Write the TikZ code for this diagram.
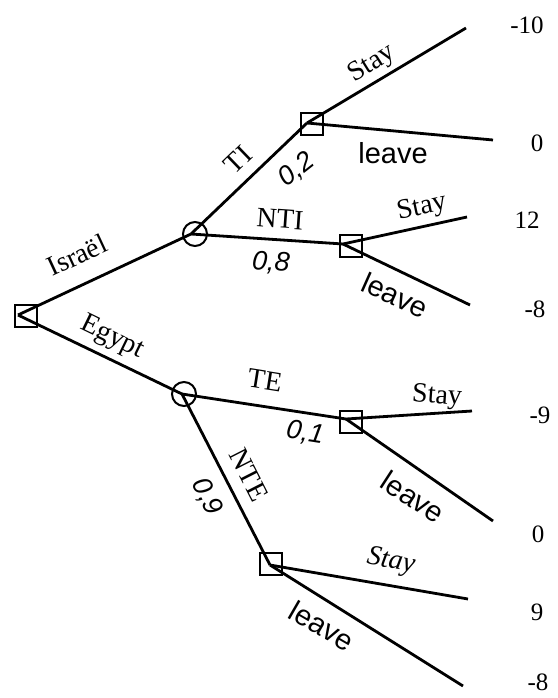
\documentclass[tikz,border=0pt]{standalone}
\usepackage{fontspec}
\setmainfont{Liberation Serif}
\newfontfamily\helv{Liberation Sans}
\begin{document}
\begin{tikzpicture}[x=1pt,y=-1pt,
  edge/.style={line width=2.8pt},
  decision/.style={draw, line width=2pt, minimum size=22pt, inner sep=0pt},
  chance/.style={draw, circle, line width=2pt, minimum size=24pt, inner sep=0pt},
  lbl/.style={font=\fontsize{28}{28}\selectfont, inner sep=0pt},
  lbli/.style={font=\itshape\fontsize{28}{28}\selectfont, inner sep=0pt},
  prob/.style={font=\helv\itshape\fontsize{27}{27}\selectfont, inner sep=0pt},
  act/.style={font=\helv\fontsize{29}{29}\selectfont, inner sep=0pt},
  pay/.style={font=\fontsize{25}{25}\selectfont, inner sep=0pt}]
\useasboundingbox (0,0) rectangle (557,698);

% decision and chance nodes
\node[decision] (root) at (26,316) {};
\node[chance]   (ci)   at (195,234) {};
\node[chance]   (ce)   at (184,394) {};
\node[decision] (dti)  at (312,124) {};
\node[decision] (dnti) at (351,246) {};
\node[decision] (dte)  at (351,422) {};
\node[decision] (dnte) at (271,564) {};

% junction points inside the node symbols
\coordinate (rootj) at (18,315);
\coordinate (cij)   at (191,234);
\coordinate (cej)   at (182,394);
\coordinate (dtij)  at (307,123);
\coordinate (dntij) at (343,244);
\coordinate (dtej)  at (346,419);
\coordinate (dntej) at (270,565);

% leaf ends
\coordinate (e1) at (466,28);
\coordinate (e2) at (493,140);
\coordinate (e3) at (467,217);
\coordinate (e4) at (470,305);
\coordinate (e5) at (472,411);
\coordinate (e6) at (493,521);
\coordinate (e7) at (468,599);
\coordinate (e8) at (463,686);

% branches
\draw[edge] (rootj) -- (cij);
\draw[edge] (rootj) -- (cej);
\draw[edge] (cij) -- (dtij);
\draw[edge] (cij) -- (dntij);
\draw[edge] (cej) -- (dtej);
\draw[edge] (cej) -- (dntej);
\draw[edge] (dtij) -- (e1);
\draw[edge] (dtij) -- (e2);
\draw[edge] (dntij) -- (e3);
\draw[edge] (dntij) -- (e4);
\draw[edge] (dtej) -- (e5);
\draw[edge] (dtej) -- (e6);
\draw[edge] (dntej) -- (e7);
\draw[edge] (dntej) -- (e8);

% branch labels
\node[lbl, rotate=25]  (lis)  at (77,255)  {Israël};
\node[lbl, rotate=-26] (leg)  at (112,338) {Egypt};
\node[lbl, rotate=44]  (lti)  at (238,160) {TI};
\node[prob, rotate=38] (p02)  at (297,170) {0,2};
\node[lbl, rotate=-4]  (lnti) at (280,219) {NTI};
\node[prob, rotate=-4] (p08)  at (271,263) {0,8};
\node[lbl, rotate=-9]  (lte)  at (265,380) {TE};
\node[prob, rotate=-9] (p01)  at (305,433) {0,1};
\node[lbl, rotate=-63] (lnte) at (249,475) {NTE};
\node[prob, rotate=-63] (p09) at (207,497) {0,9};

\node[lbl, rotate=32]   (s1) at (372,64)  {Stay};
\node[act]              (l1) at (393,153) {leave};
\node[lbl, rotate=12]   (s2) at (422,208) {Stay};
\node[act, rotate=-24]  (l2) at (395,295) {leave};
\node[lbl, rotate=-4]   (s3) at (437,397) {Stay};
\node[act, rotate=-33]  (l3) at (413,497) {leave};
\node[lbli, rotate=-10] (s4) at (391,562) {Stay};
\node[act, rotate=-30]  (l4) at (322,626) {leave};

% payoffs
\node[pay] (v1) at (527,25)  {-10};
\node[pay] (v2) at (537,143) {0};
\node[pay] (v3) at (527,220) {12};
\node[pay] (v4) at (535,309) {-8};
\node[pay] (v5) at (540,415) {-9};
\node[pay] (v6) at (538,534) {0};
\node[pay] (v7) at (537,612) {9};
\node[pay] (v8) at (538,682) {-8};
\end{tikzpicture}
\end{document}
